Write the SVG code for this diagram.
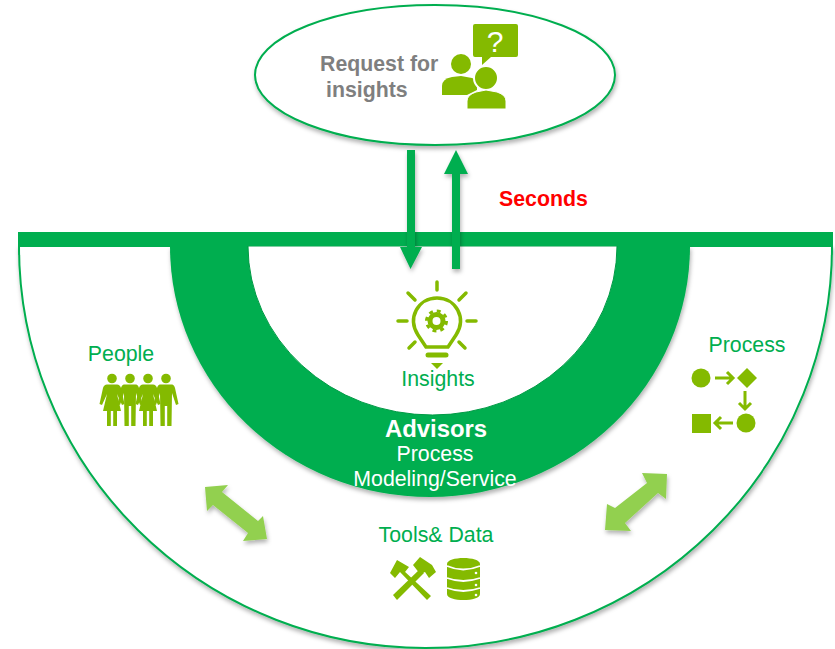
<svg xmlns="http://www.w3.org/2000/svg" width="835" height="649" viewBox="0 0 835 649">
<style>
text{font-family:"Liberation Sans",Arial,sans-serif}
.g{fill:#00ae4f}
.l{fill:#00ae4f;font-size:21.300px}
.w{fill:#fff;font-size:21.300px}
.i{fill:#84ba00}
.a{fill:#92d050}
.is{stroke:#84ba00;fill:none;stroke-linecap:round}
</style>
<defs>
<filter id="s" x="-30%" y="-30%" width="160%" height="160%"><feDropShadow dx="1" dy="3" stdDeviation="2" flood-color="#000" flood-opacity=".3"/></filter>
<g id="man"><circle cx="0" cy="-47.500" r="4.800"/><path d="M-6-41.500H6Q8-41.500 9-38L12.500-22 10-21 6-33 5.500 0H1.200V-20H-1.200V0H-5.500L-6-33-10-21-12.500-22-9-38Q-8-41.500-6-41.500Z"/></g>
<g id="woman"><circle cx="0" cy="-47.500" r="4.800"/><path d="M-5-41.500H5Q8-41.500 9-38L12.500-22 10-21 5-32 9-15H5V0H1.200V-15H-1.200V0H-5V-15H-9L-5-32-10-21-12.500-22-9-38Q-8-41.500-5-41.500Z"/></g>
</defs>
<g id="base">
<path d="M19 246H832A406.500 402 0 0 1 19 246Z" fill="#fff" stroke="#00ae4f" stroke-width="2" filter="url(#s)"/>
</g>
<g id="advisors">
<path d="M170 246H690A260 251 0 0 1 170 246Z" class="g" filter="url(#s)"/>
<path d="M248 246H617A184.500 169 0 0 1 248 246Z" fill="#fff" stroke="#009a45" stroke-width="1"/>
<text x="436" y="437" text-anchor="middle" fill="#fff" font-size="23.900" font-weight="bold">Advisors</text>
<text x="435" y="461" text-anchor="middle" class="w">Process</text>
<text x="435" y="486" text-anchor="middle" class="w">Modeling/Service</text>
</g>
<g id="bar"><rect x="18" y="232" width="815" height="14" class="g"/></g>
<g id="request">
<ellipse cx="435" cy="75" rx="180" ry="70" fill="#fff" stroke="#00ae4f" stroke-width="2" filter="url(#s)"/>
<text x="320" y="71" fill="#7f7f7f" font-size="21.300" font-weight="bold">Request for</text>
<text x="326" y="97" fill="#7f7f7f" font-size="21.300" font-weight="bold">insights</text>
<g class="i">
<path d="M475 24Q473 24 473 26V55Q473 57 475 57H482V65L491 57H516Q518 57 518 55V26Q518 24 516 24Z"/>
<circle cx="461" cy="64" r="10"/>
<path d="M442 95V86Q442 79 452 77L461 76 472 78 477 80V90L467 95Z"/>
<circle cx="486" cy="78" r="12" stroke="#fff" stroke-width="2"/>
<path d="M467 109V101Q467 95 476 92L486 90 497 92Q506 95 506 101V109Z" stroke="#fff" stroke-width="1"/>
</g>
<text x="495" y="52" text-anchor="middle" fill="#fff" font-size="30">?</text>
</g>
<g id="seconds"><text x="499" y="206" fill="#f00" font-size="21.300" font-weight="bold">Seconds</text></g>
<g id="connectors">
<path d="M407 150H415V247H422L410.500 269 400 247H407Z" class="g" filter="url(#s)"/>
<path d="M452 269V174H444L456 150 468 174H460V269Z" class="g" filter="url(#s)"/>
<path d="M205 487 228 485 222 492 258 521 263 516 267 539 243 541 248 533 213 505 207 511Z" class="a" filter="url(#s)"/>
<path d="M667 474 642 473 647 483 615 508 607 504 605 530 631 531 625 523 658 493 666 499Z" class="a" filter="url(#s)"/>
</g>
<g id="insights">
<g class="is" stroke-width="3.500">
<path d="M437 282V290M408 293 415 300M466 293 459 300M398 321H407M467 321H476M409 348 415 342M465 348 459 342"/>
<path d="M426 347 418 335C407 318 418 298 437 298S467 318 456 335L448 347Z"/>
<path d="M428 355H446" stroke-width="5"/>
</g>
<circle cx="436.500" cy="321" r="6.500" fill="none" stroke="#84ba00" stroke-width="5"/>
<circle cx="436.500" cy="321" r="10" fill="none" stroke="#84ba00" stroke-width="3" stroke-dasharray="3.900 3.950"/>
<path d="M431 363H443L437 369Z" class="i"/>
<text x="438" y="386" text-anchor="middle" class="l">Insights</text>
</g>
<g id="people">
<text x="121" y="361" text-anchor="middle" class="l">People</text>
<g class="i">
<use href="#woman" x="112" y="426"/>
<use href="#man" x="130" y="426"/>
<use href="#woman" x="148" y="426"/>
<use href="#man" x="166" y="426"/>
</g>
</g>
<g id="process">
<text x="747" y="352" text-anchor="middle" class="l">Process</text>
<g class="i">
<circle cx="701" cy="378" r="9.500"/>
<path d="M747 368 757 378 747 388 737 378Z"/>
<rect x="692" y="414" width="19" height="19"/>
<circle cx="746" cy="423" r="9.500"/>
</g>
<path d="M715 378H733M727 372 733 378 727 384M745 391V409M739 403 745 409 751 403M733 423H715M721 417 715 423 721 429" stroke="#84ba00" stroke-width="3" fill="none"/>
</g>
<g id="tools">
<text x="436" y="542" text-anchor="middle" class="l">Tools&amp; Data</text>
<g class="i">
<path d="M390 573 397 560 409 567 405 572 403 570 431 596 427 600 400 572 395 578Z"/>
<path d="M393 595 420 569 424 573 397 600Z"/>
<path d="M413 565 420 557 432 565 436 572 429 578 425 572 420 574Z"/>
</g>
<path d="M447 564C447 556 480 556 480 564V594C480 602 447 602 447 594Z" class="i"/>
<g fill="none" stroke="#fff" stroke-width="1.800">
<path d="M447 566Q463 573 480 566M447 578Q463 584 480 578M447 588Q463 594 480 588"/>
</g>
<g fill="#fff"><circle cx="476" cy="573" r="1.300"/><circle cx="476" cy="585" r="1.300"/><circle cx="476" cy="595" r="1.300"/></g>
</g>
</svg>
